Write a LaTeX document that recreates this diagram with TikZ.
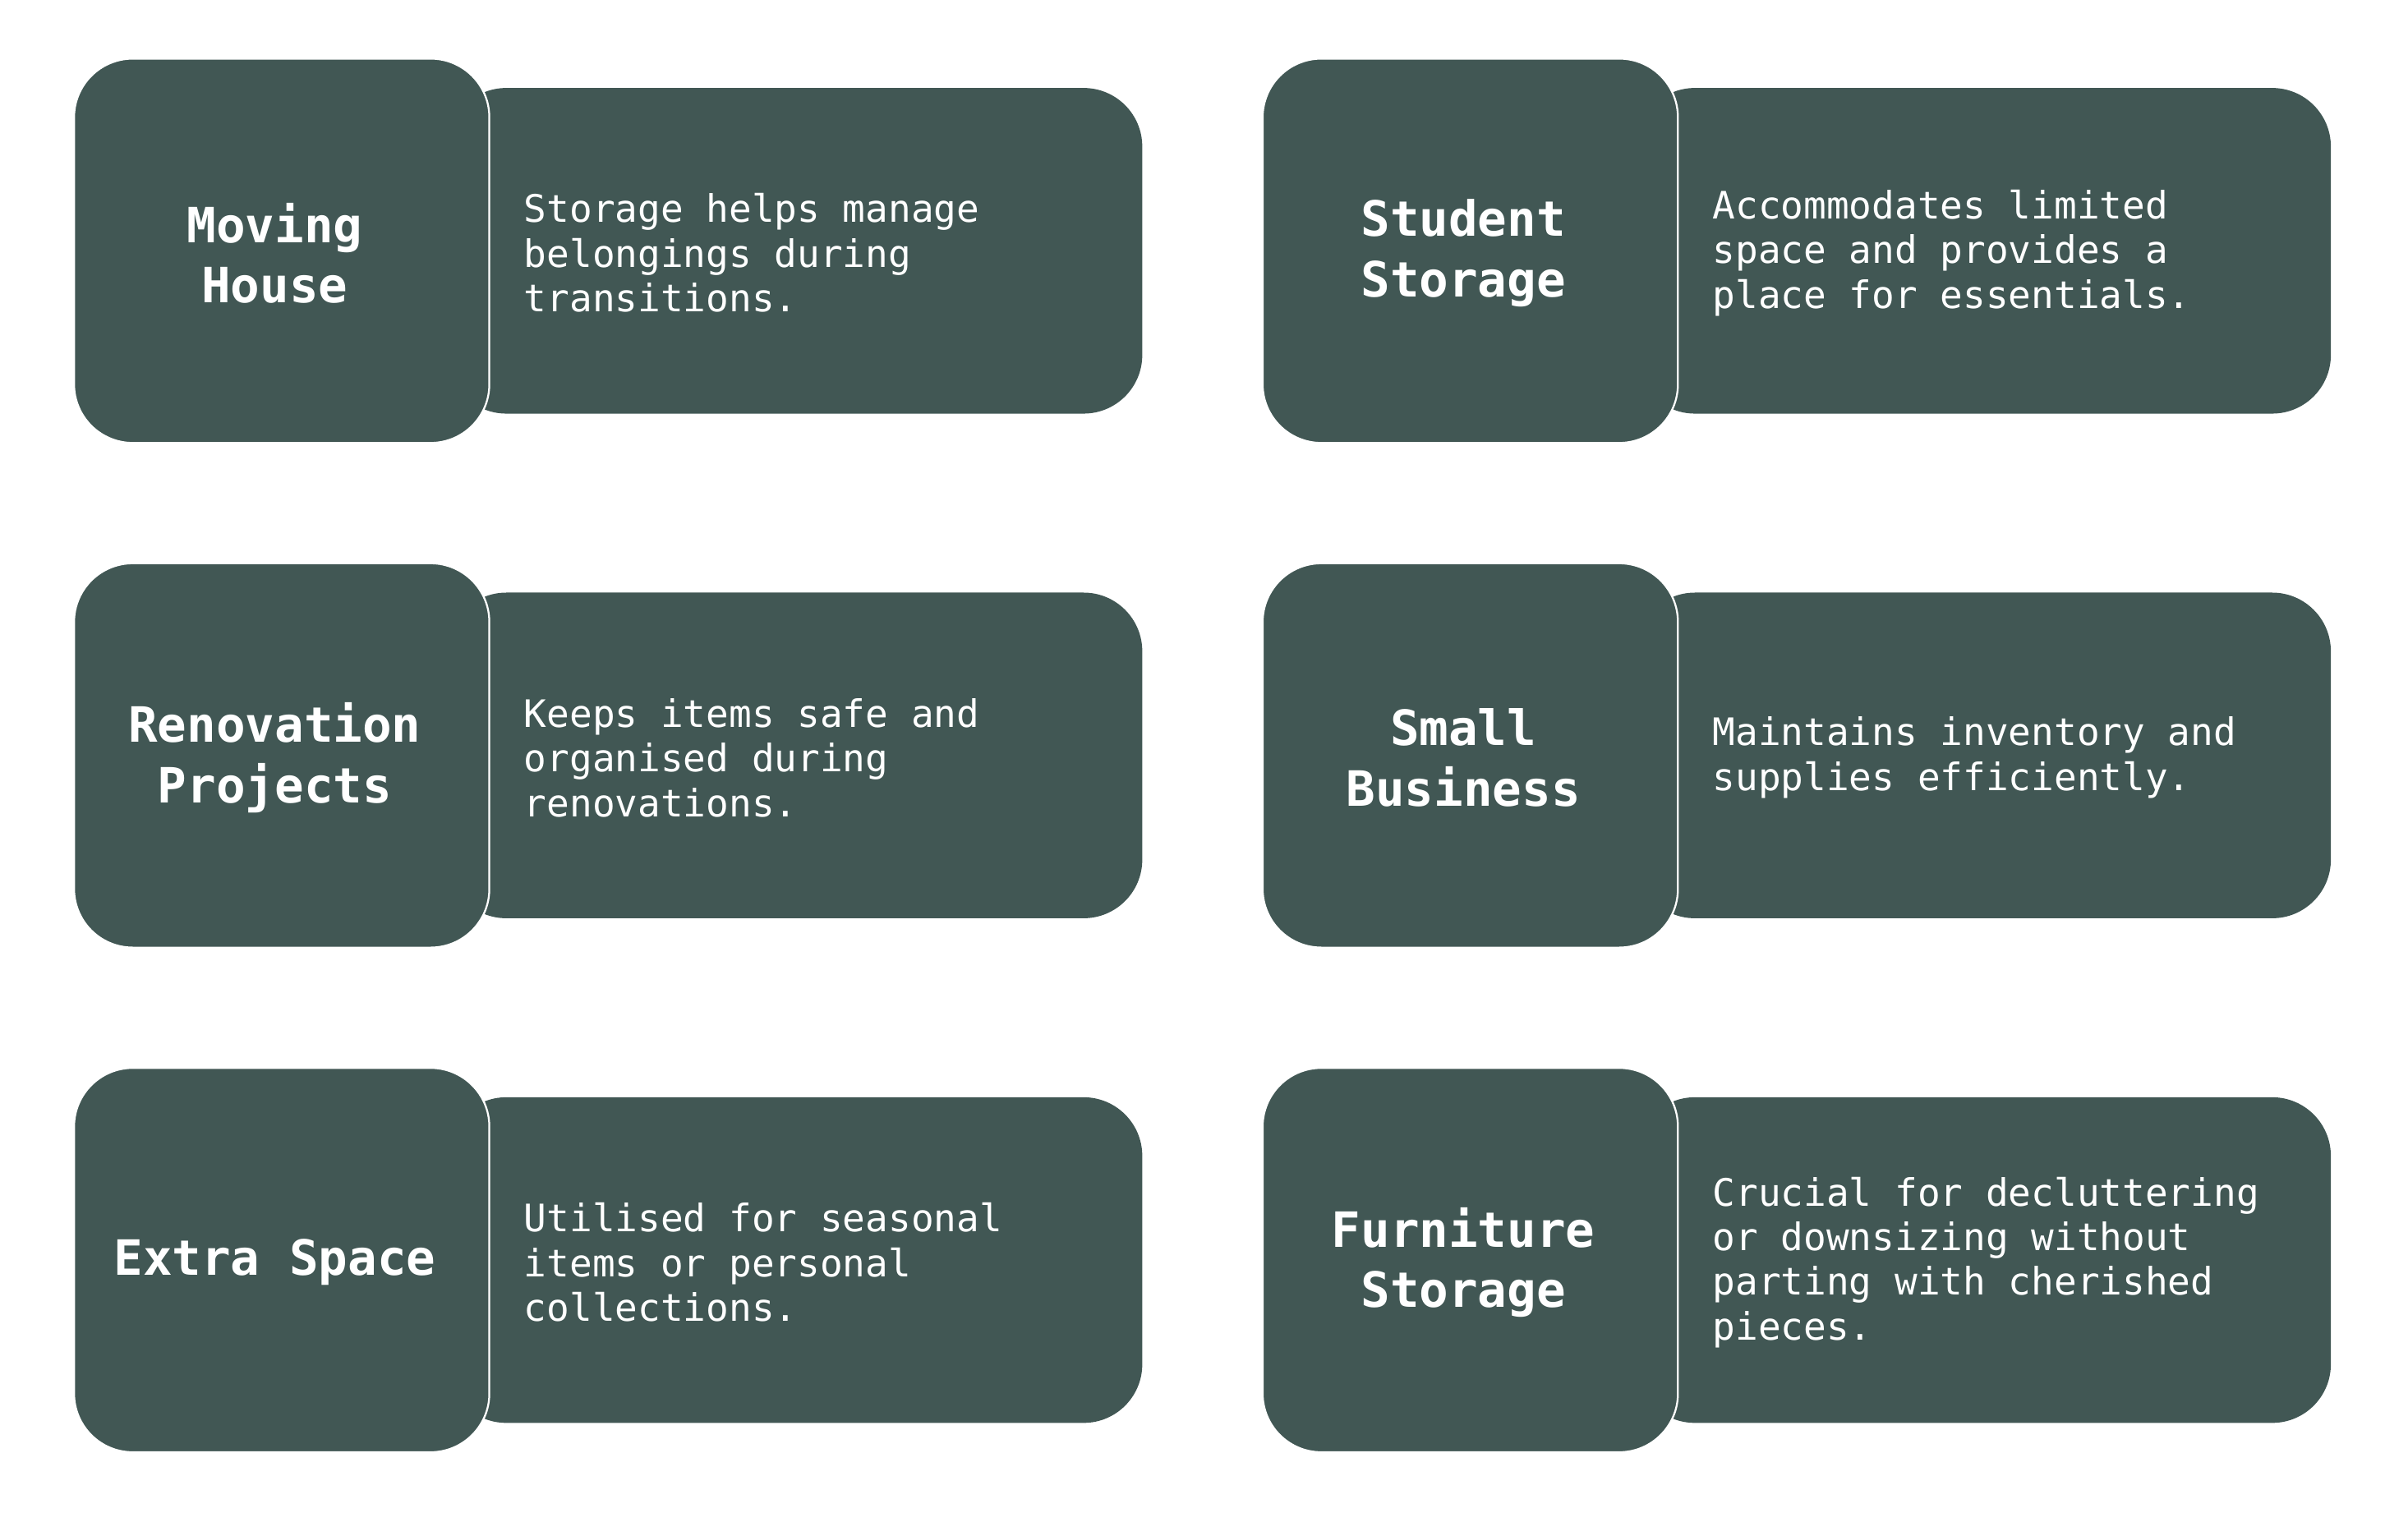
\documentclass[tikz,border=0pt]{standalone}
\usepackage{fontspec}
\setmonofont{DejaVu Sans Mono}
\definecolor{slate}{HTML}{415754}
\begin{document}
\begin{tikzpicture}[x=1pt,y=-1pt,
  sq/.style={fill=slate,draw=white,line width=1.2pt,rounded corners=38pt},
  rc/.style={fill=slate,rounded corners=38pt},
  ttl/.style={text=white,font=\ttfamily\bfseries\fontsize{31.5}{39}\selectfont,align=center},
  bdy/.style={text=white,font=\ttfamily\fontsize{24.5}{29}\selectfont,align=left,anchor=west}]
\useasboundingbox (0,0) rectangle (1560,986);
\foreach \cx/\cy/\i/\t/\b in {
 0/0/a/{Moving\\House}/{Storage helps manage\\belongings during\\transitions.},
 770/0/b/{Student\\Storage}/{Accommodates limited\\space and provides a\\place for essentials.},
 0/327/c/{Renovation\\Projects}/{Keeps items safe and\\organised during\\renovations.},
 770/327/d/{Small\\Business}/{Maintains inventory and\\supplies efficiently.},
 0/654/e/{Extra Space}/{Utilised for seasonal\\items or personal\\collections.},
 770/654/f/{Furniture\\Storage}/{Crucial for decluttering\\or downsizing without\\parting with cherished\\pieces.}}{
  \path[rc] (\cx+290,\cy+57) rectangle (\cx+740,\cy+268);
  \path[sq] (\cx+48,\cy+38) rectangle (\cx+317,\cy+287);
  \node[ttl] (t\i) at (\cx+178,\cy+164) {\t};
  \node[bdy] (b\i) at (\cx+336,\cy+164) {\b};
}
\end{tikzpicture}
\end{document}
